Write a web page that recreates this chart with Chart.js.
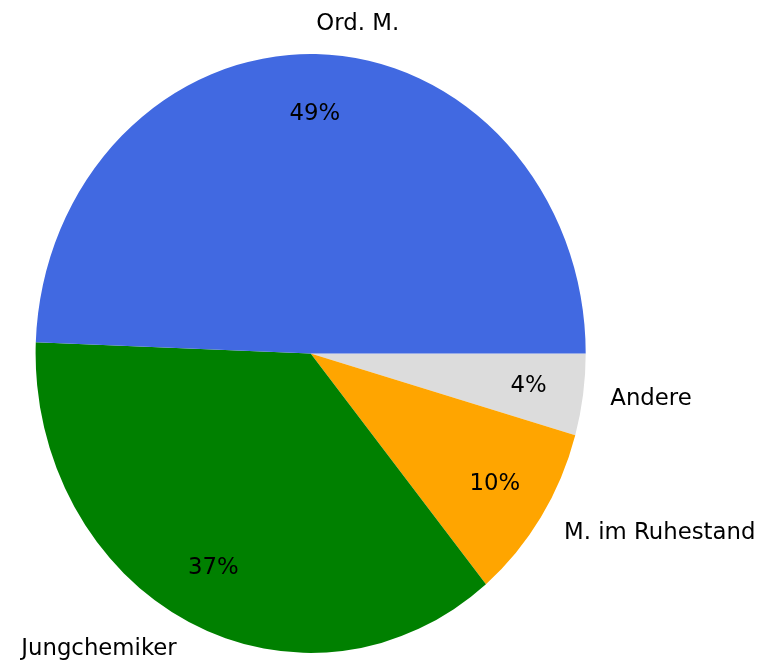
<!DOCTYPE html>
<html>
<head>
<meta charset="utf-8">
<script src="https://cdn.jsdelivr.net/npm/chart.js@4"></script>
<style>
  html, body { margin: 0; padding: 0; background: #fff; }
  canvas { display: block; }
</style>
</head>
<body>
<canvas id="pieChart" width="760" height="662"></canvas>
<script>
// Daten (Reihenfolge wie im Original, gegen den Uhrzeigersinn ab 3 Uhr)
const categories = ['Ord. M.', 'Jungchemiker', 'M. im Ruhestand', 'Andere'];
const shares = [49.4, 36.6, 9.6, 4.4];
const colors = ['#4169e1', '#008000', '#ffa500', '#dcdcdc'];

// Chart.js zeichnet im Uhrzeigersinn -> Reihenfolge umdrehen
const labelsCw = categories.slice().reverse();
const valuesCw = shares.slice().reverse();
const colorsCw = colors.slice().reverse();

const stretchY = 299.5 / 275.1;   // Torte ist im Original leicht elliptisch
const font = '22.8px "DejaVu Sans"';

const ellipsePlugin = {
    id: 'ellipse',
    beforeDatasetsDraw(chart) {
        const arc = chart.getDatasetMeta(0).data[0];
        const ctx = chart.ctx;
        ctx.save();
        ctx.translate(arc.x, arc.y);
        ctx.scale(1, stretchY);
        ctx.translate(-arc.x, -arc.y);
    },
    afterDatasetsDraw(chart) {
        chart.ctx.restore();
    }
};

const labelPlugin = {
    id: 'pieLabels',
    afterDraw(chart) {
        const ctx = chart.ctx;
        const data = chart.data.datasets[0].data;
        const total = data.reduce((a, b) => a + b, 0);
        ctx.save();
        ctx.font = font;
        ctx.fillStyle = '#000';
        ctx.textBaseline = 'middle';
        chart.getDatasetMeta(0).data.forEach((arc, i) => {
            const mid = (arc.startAngle + arc.endAngle) / 2;
            const r = arc.outerRadius;
            const cx = Math.cos(mid), cy = Math.sin(mid);
            // Prozent innen (0.8 * r)
            ctx.textAlign = 'center';
            const pct = (data[i] / total * 100).toFixed(0) + '%';
            ctx.fillText(pct, arc.x + 0.8 * r * cx, arc.y + 0.8 * r * cy * stretchY);
            // Beschriftung aussen (1.1 * r)
            ctx.textAlign = cx > 0 ? 'left' : 'right';
            ctx.fillText(chart.data.labels[i], arc.x + 1.1 * r * cx, arc.y + 1.1 * r * cy * stretchY);
        });
        ctx.restore();
    }
};

new Chart(document.getElementById('pieChart').getContext('2d'), {
    type: 'pie',
    data: {
        labels: labelsCw,
        datasets: [{
            data: valuesCw,
            backgroundColor: colorsCw,
            borderWidth: 0,
            hoverOffset: 0
        }]
    },
    options: {
        responsive: false,
        animation: false,
        rotation: 90,
        layout: { padding: { left: 35.6, right: 174.3, top: 78.4, bottom: 33.4 } },
        plugins: {
            legend: { display: false },
            tooltip: { enabled: false }
        }
    },
    plugins: [ellipsePlugin, labelPlugin]
});
</script>
</body>
</html>
